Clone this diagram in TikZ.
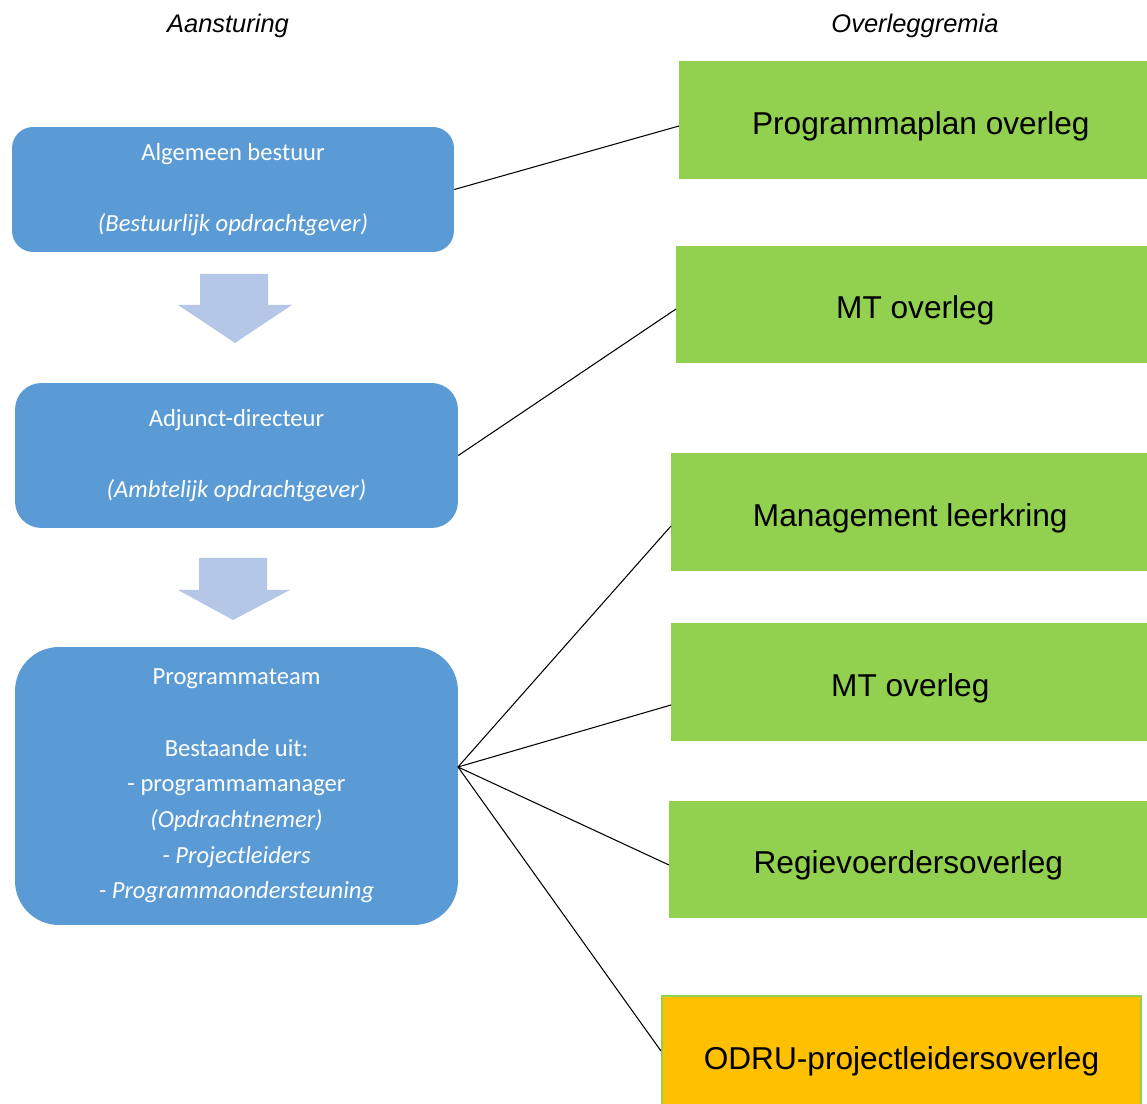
\documentclass[tikz,border=0pt]{standalone}
\usepackage{fontspec}
\setmainfont{Liberation Sans}
\newfontfamily\stuurfont{Carlito}
\usetikzlibrary{positioning}

\definecolor{stuurblauw}{HTML}{5B9BD5}
\definecolor{pijlblauw}{HTML}{B4C7E7}
\definecolor{overleggroen}{HTML}{92D050}
\definecolor{odruoranje}{HTML}{FFC000}

\begin{document}
\begin{tikzpicture}
	[
	x=0.02cm, y=-0.02cm,
	stuur/.style = {fill=stuurblauw, text=white, align=center, inner sep=0pt,
		font=\stuurfont\fontsize{14}{20.3}\selectfont},
	overleg/.style = {fill=overleggroen, anchor=west, inner sep=0pt,
		text height=16.5pt, text depth=0pt,
		minimum width=9.56cm, minimum height=2.36cm, font=\fontsize{18}{22}\selectfont},
	kop/.style = {font=\itshape\fontsize{14.5}{17}\selectfont},
	lijn/.style = {line width=0.6pt},
	pijl/.style = {fill=pijlblauw}
	]
	\useasboundingbox (0,0) rectangle (1147,1104);
	\clip (0,0) rectangle (1147,1104);

	% kopjes
	\node[kop] (aansturing) at (228,26) {Aansturing};
	\node[kop] (overleggremia) at (915,26) {Overleggremia};

	% aansturing
	\node[stuur, rounded corners=12, minimum width=8.84cm, minimum height=2.5cm] (ab) at (233,189.5)
		{Algemeen bestuur\\[20.3pt]\textit{(Bestuurlijk opdrachtgever)}};
	\node[stuur, rounded corners=15, minimum width=8.86cm, minimum height=2.9cm] (ad) at (236.5,455.5)
		{Adjunct-directeur\\[20.3pt]\textit{(Ambtelijk opdrachtgever)}};
	\node[stuur, rounded corners=25, minimum width=8.86cm, minimum height=5.56cm] (pt) at (236.5,786)
		{Programmateam\\[20.3pt]Bestaande uit:\\- programmamanager\\\textit{(Opdrachtnemer)}\\
		 \textit{- Projectleiders}\\\textit{- Programmaondersteuning}};

	\fill[pijl] (200,274) -- (268,274) -- (268,305) -- (292,305) -- (235,343) -- (178,305) -- (200,305) -- cycle;
	\fill[pijl] (199,558) -- (267,558) -- (267,590) -- (290,590) -- (233,620) -- (178,590) -- (199,590) -- cycle;

	% overleggremia
	\node[overleg] (plan) at (679,120) {\hspace*{0.1cm}Programmaplan overleg};
	\node[overleg] (mt1) at (676,304.5) {MT overleg};
	\node[overleg] (leer) at (671,512) {Management leerkring};
	\node[overleg] (mt2) at (671,682) {MT overleg};
	\node[overleg] (regie) at (669,859.5) {Regievoerdersoverleg};
	\node[overleg, fill=odruoranje, draw=overleggroen, line width=1.2pt, minimum width=9.58cm] (odru) at (661,1055) {ODRU-projectleidersoverleg};

	\coordinate (waaier) at (458,767);

	\draw[lijn] (ab.east) -- ([yshift=-0.12cm]plan.west);
	\draw[lijn] (ad.east) -- ([yshift=-0.09cm]mt1.west);
	\draw[lijn] (waaier) -- ([yshift=-0.28cm]leer.west);
	\draw[lijn] (waaier) -- ([yshift=-0.46cm]mt2.west);
	\draw[lijn] (waaier) -- ([yshift=-0.11cm]regie.west);
	\draw[lijn] (waaier) -- ([yshift=0.08cm]odru.west);
\end{tikzpicture}
\end{document}
